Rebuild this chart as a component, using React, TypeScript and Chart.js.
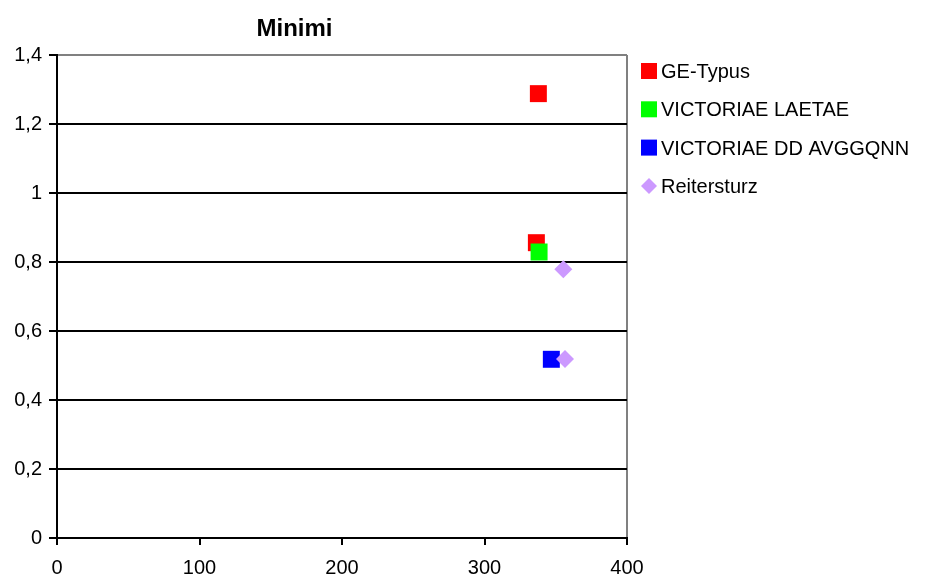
import React, { useEffect, useRef } from "react";
import { Chart, registerables } from "chart.js";

Chart.register(...registerables);

const seriesNames = ["GE-Typus", "VICTORIAE LAETAE", "VICTORIAE DD AVGGQNN", "Reitersturz"];
const seriesColors = ["#FF0000", "#00FF00", "#0000FF", "#CC99FF"];
const seriesShapes = ["rect", "rect", "rect", "rectRot"];

const geTypusX = [337.8, 336.4];
const geTypusY = [1.288, 0.856];
const laetaeX = [338.3];
const laetaeY = [0.829];
const avggqnnX = [346.9];
const avggqnnY = [0.518];
const reiterX = [355.3, 356.5];
const reiterY = [0.779, 0.519];

const xTicks = [0, 100, 200, 300, 400];
const yTicks = [0, 0.2, 0.4, 0.6, 0.8, 1, 1.2, 1.4];
const titleText = "Minimi";

const FONT = "'Liberation Sans', Arial, sans-serif";

const toPoints = (xs: number[], ys: number[]) => xs.map((x, i) => ({ x, y: ys[i] }));

const overlay = {
  id: "overlay",
  afterDraw(chart: any) {
    const ctx = chart.ctx;
    ctx.save();
    ctx.fillStyle = "#000";
    ctx.font = `bold 24px ${FONT}`;
    ctx.textAlign = "center";
    ctx.textBaseline = "alphabetic";
    ctx.fillText(titleText, 294.5, 36);

    ctx.font = `20px ${FONT}`;
    ctx.textAlign = "left";
    seriesNames.forEach((name, i) => {
      const cy = 71 + i * 38.3;
      ctx.fillStyle = seriesColors[i];
      if (seriesShapes[i] === "rectRot") {
        ctx.beginPath();
        ctx.moveTo(641, cy);
        ctx.lineTo(649, cy - 8);
        ctx.lineTo(657, cy);
        ctx.lineTo(649, cy + 8);
        ctx.closePath();
        ctx.fill();
      } else {
        ctx.fillRect(641, cy - 8, 16, 16);
      }
      ctx.fillStyle = "#000";
      ctx.fillText(name, 661, cy + 7);
    });
    ctx.restore();
  },
};

export default function App() {
  const ref = useRef<HTMLCanvasElement>(null);
  useEffect(() => {
    if (!ref.current) return;
    const allX = [geTypusX, laetaeX, avggqnnX, reiterX];
    const allY = [geTypusY, laetaeY, avggqnnY, reiterY];
    const chart = new Chart(ref.current, {
      type: "scatter",
      data: {
        datasets: seriesNames.map((name, i) => ({
          label: name,
          data: toPoints(allX[i], allY[i]),
          backgroundColor: seriesColors[i],
          borderColor: seriesColors[i],
          pointStyle: seriesShapes[i] as any,
          pointRadius: seriesShapes[i] === "rectRot" ? 9 : 12,
          pointBorderWidth: 0,
          pointHoverRadius: seriesShapes[i] === "rectRot" ? 9 : 12,
          order: 4 - i,
        })),
      },
      options: {
        responsive: false,
        animation: false,
        layout: { padding: { top: 55, right: 300, left: 0, bottom: 0 } },
        plugins: {
          legend: { display: false },
          title: { display: false },
          tooltip: { enabled: false },
        },
        scales: {
          x: {
            type: "linear",
            min: 0,
            max: 400,
            afterFit: (s: any) => {
              s.height = 40;
            },
            afterBuildTicks: (s: any) => {
              s.ticks = xTicks.map((v) => ({ value: v }));
            },
            ticks: {
              color: "#000",
              font: { family: FONT, size: 20 },
              padding: 11,
              maxRotation: 0,
            },
            grid: {
              color: (c: any) => (c.tick && c.tick.value === 400 ? "#808080" : "rgba(0,0,0,0)"),
              tickColor: "#000",
              lineWidth: 2,
              tickWidth: 2,
              tickLength: 7,
              drawTicks: true,
            },
            border: { color: "#000", width: 2 },
          },
          y: {
            type: "linear",
            min: 0,
            max: 1.4,
            afterFit: (s: any) => {
              s.width = 57;
            },
            afterBuildTicks: (s: any) => {
              s.ticks = yTicks.map((v) => ({ value: v }));
            },
            ticks: {
              color: "#000",
              font: { family: FONT, size: 20 },
              padding: 7,
              callback: (v: any) => String(Number(Number(v).toFixed(1))).replace(".", ","),
            },
            grid: {
              color: (c: any) => (c.tick && Math.abs(c.tick.value - 1.4) < 1e-6 ? "#808080" : "#000"),
              tickColor: "#000",
              lineWidth: 2,
              tickWidth: 2,
              tickLength: 8,
            },
            border: { color: "#000", width: 2 },
          },
        },
      },
      plugins: [overlay],
    });
    return () => chart.destroy();
  }, []);
  return (
    <div style={{ position: "absolute", left: 0, top: 0, width: 927, height: 578, background: "#fff" }}>
      <canvas ref={ref} width={927} height={578} style={{ display: "block" }} />
    </div>
  );
}
